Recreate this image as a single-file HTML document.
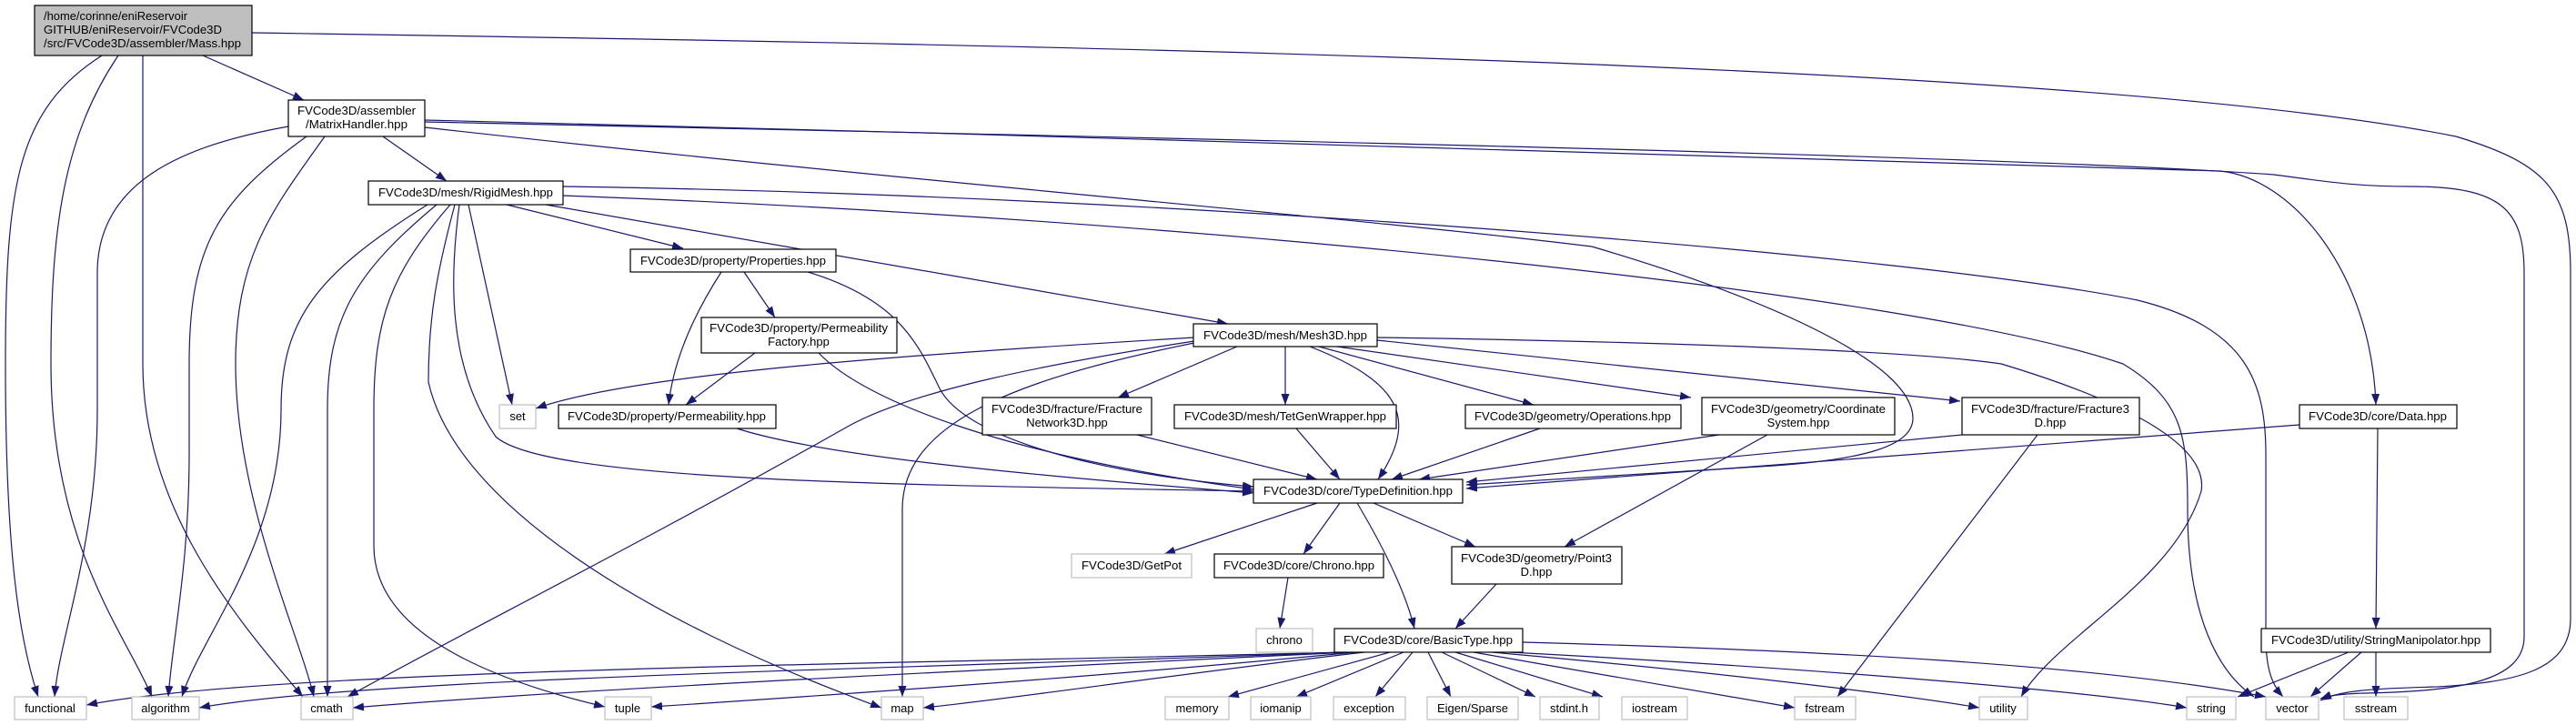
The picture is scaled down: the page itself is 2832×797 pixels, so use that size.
<!DOCTYPE html>
<html><head><meta charset="utf-8"><style>
html,body{margin:0;padding:0;background:#fff;}
svg{display:block;font-family:"Liberation Sans",sans-serif;}
text{font-size:13px;fill:#000;}
.n{fill:#fff;stroke:#000;stroke-width:1.2;}
.g{fill:#fff;stroke:#bfbfbf;stroke-width:1.2;}
.e{fill:none;stroke:#191970;stroke-width:1.2;marker-end:url(#a);}
</style></head><body>
<svg width="2832" height="797" viewBox="0 0 2832 797" xmlns="http://www.w3.org/2000/svg">
<defs><marker id="a" markerWidth="12" markerHeight="9" refX="12" refY="4.5" orient="auto" markerUnits="userSpaceOnUse"><path d="M0,0L12,4.5L0,9z" fill="#191970"/></marker></defs>
<g>
<path class="e" d="M223,61 L334,110"/>
<path class="e" d="M112,61 C20,120 6,200 6,400 C6,600 20,700 42,766"/>
<path class="e" d="M130,61 C70,150 56,250 56,400 C56,600 140,700 167,766"/>
<path class="e" d="M157,61 L157,400 C157,560 260,680 333,766"/>
<path class="e" d="M277,36 C1200,50 2300,70 2700,150 C2800,180 2826,210 2826,300 L2826,680 C2826,740 2760,750 2680,755 C2600,757 2570,760 2551,770"/>
<path class="e" d="M421,150 L491,199"/>
<path class="e" d="M317,139 C200,160 107,200 107,300 L107,450 C107,600 65,700 60,766"/>
<path class="e" d="M337,150 C240,220 208,270 208,400 L208,500 C208,620 190,700 185,766"/>
<path class="e" d="M357,150 C300,230 259,280 259,400 C259,550 330,700 345,766"/>
<path class="e" d="M467,140 C1000,200 1500,240 1750,271 C1950,330 2103,400 2103,460 C2103,490 2050,505 1950,512 L1612,533"/>
<path class="e" d="M467,132 C1200,150 2100,175 2440,188 C2520,195 2607,300 2612,445"/>
<path class="e" d="M467,134 C1200,150 2200,170 2500,192 C2560,200 2590,205 2650,205 C2750,205 2775,230 2775,300 L2775,700 C2775,750 2700,760 2600,762 C2570,763 2560,765 2551,768"/>
<path class="e" d="M557,225 L751,273"/>
<path class="e" d="M600,225 L1350,356"/>
<path class="e" d="M515,225 L563,445"/>
<path class="e" d="M470,225 C350,300 309,350 309,450 C309,600 220,700 200,766"/>
<path class="e" d="M480,225 C390,300 360,350 360,450 L360,766"/>
<path class="e" d="M495,225 C430,300 411,350 411,450 L411,600 C411,700 550,750 665,777"/>
<path class="e" d="M500,225 C480,300 471,350 471,420 C500,550 700,680 969,778"/>
<path class="e" d="M505,225 C495,300 490,400 545,480 C600,530 1000,533 1378,540"/>
<path class="e" d="M619,205 C1300,215 2100,280 2350,330 C2470,360 2491,420 2491,500 L2491,700 C2491,740 2500,755 2510,766"/>
<path class="e" d="M619,215 C1300,240 2100,320 2334,400 C2400,440 2405,480 2405,560 C2405,680 2440,740 2478,766"/>
<path class="e" d="M1514,371 C1800,375 2100,385 2200,400 C2300,430 2430,480 2420,540 C2390,640 2260,700 2222,766"/>
<path class="e" d="M1514,374 L2155,441"/>
<path class="e" d="M1470,381 L1859,437"/>
<path class="e" d="M1450,381 L1686,445"/>
<path class="e" d="M1440,381 C1540,420 1560,460 1515,527"/>
<path class="e" d="M1413,381 L1413,445"/>
<path class="e" d="M1360,381 L1229,437"/>
<path class="e" d="M1313,377 C1100,420 992,470 992,560 L992,766"/>
<path class="e" d="M1313,375 C1150,400 1000,430 930,470 C700,600 500,700 382,766"/>
<path class="e" d="M1313,371 C1000,390 700,410 589,449"/>
<path class="e" d="M793,299 C760,350 740,400 735,445"/>
<path class="e" d="M818,299 L852,349"/>
<path class="e" d="M888,299 C990,330 1010,380 1033,427 C1060,480 1200,520 1378,535"/>
<path class="e" d="M900,388 C950,440 1100,500 1378,538"/>
<path class="e" d="M830,388 L754,445"/>
<path class="e" d="M810,471 C900,500 1100,520 1378,542"/>
<path class="e" d="M1250,478 L1448,527"/>
<path class="e" d="M1425,471 L1473,527"/>
<path class="e" d="M1693,471 L1530,527"/>
<path class="e" d="M1890,478 L1560,527"/>
<path class="e" d="M1943,478 L1720,601"/>
<path class="e" d="M2157,478 L1612,530"/>
<path class="e" d="M2240,478 L2020,766"/>
<path class="e" d="M2528,467 L1612,537"/>
<path class="e" d="M2614,471 L2612,691"/>
<path class="e" d="M1448,553 L1280,609"/>
<path class="e" d="M1473,553 L1433,609"/>
<path class="e" d="M1492,553 C1520,600 1545,650 1555,691"/>
<path class="e" d="M1510,553 L1622,601"/>
<path class="e" d="M1416,635 L1407,691"/>
<path class="e" d="M1645,642 L1600,691"/>
<path class="e" d="M1475,717 C1000,730 300,735 95,775"/>
<path class="e" d="M1480,717 C1000,735 400,745 219,778"/>
<path class="e" d="M1485,717 C1000,740 600,760 388,778"/>
<path class="e" d="M1490,717 C1200,745 900,765 716,777"/>
<path class="e" d="M1500,717 C1300,740 1100,770 1015,778"/>
<path class="e" d="M1528,717 L1350,766"/>
<path class="e" d="M1543,717 L1425,766"/>
<path class="e" d="M1553,717 L1512,766"/>
<path class="e" d="M1570,717 L1595,766"/>
<path class="e" d="M1585,717 L1688,766"/>
<path class="e" d="M1600,717 L1762,766"/>
<path class="e" d="M1620,717 C1750,740 1900,765 1973,778"/>
<path class="e" d="M1640,717 C1900,740 2100,765 2176,778"/>
<path class="e" d="M1660,717 C2000,735 2300,760 2404,778"/>
<path class="e" d="M1674,706 C2000,715 2300,730 2491,766"/>
<path class="e" d="M2582,717 L2460,766"/>
<path class="e" d="M2596,717 L2540,766"/>
<path class="e" d="M2612,717 L2612,766"/>
</g>
<g>
<rect x="38" y="6" width="239" height="55" fill="#bfbfbf" stroke="#000" stroke-width="1.2"/>
<text x="48" y="22" textLength="158" lengthAdjust="spacingAndGlyphs">/home/corinne/eniReservoir</text>
<text x="48" y="37" textLength="196" lengthAdjust="spacingAndGlyphs">GITHUB/eniReservoir/FVCode3D</text>
<text x="48" y="52" textLength="217" lengthAdjust="spacingAndGlyphs">/src/FVCode3D/assembler/Mass.hpp</text>

<rect class="n" x="317" y="110" width="150" height="40"/>
<text x="392" y="126" text-anchor="middle" textLength="130" lengthAdjust="spacingAndGlyphs">FVCode3D/assembler</text>
<text x="392" y="141" text-anchor="middle" textLength="112" lengthAdjust="spacingAndGlyphs">/MatrixHandler.hpp</text>

<rect class="n" x="405" y="199" width="214" height="26"/>
<text x="512" y="216" text-anchor="middle" textLength="192" lengthAdjust="spacingAndGlyphs">FVCode3D/mesh/RigidMesh.hpp</text>

<rect class="n" x="693" y="274" width="226" height="25"/>
<text x="806" y="291" text-anchor="middle" textLength="204" lengthAdjust="spacingAndGlyphs">FVCode3D/property/Properties.hpp</text>

<rect class="n" x="771" y="349" width="215" height="39"/>
<text x="878" y="365" text-anchor="middle" textLength="196" lengthAdjust="spacingAndGlyphs">FVCode3D/property/Permeability</text>
<text x="878" y="380" text-anchor="middle">Factory.hpp</text>

<rect class="g" x="549" y="445" width="40" height="26"/>
<text x="569" y="462" text-anchor="middle">set</text>

<rect class="n" x="614" y="445" width="239" height="26"/>
<text x="733" y="462" text-anchor="middle" textLength="218" lengthAdjust="spacingAndGlyphs">FVCode3D/property/Permeability.hpp</text>

<rect class="n" x="1312" y="356" width="202" height="25"/>
<text x="1413" y="373" text-anchor="middle" textLength="180" lengthAdjust="spacingAndGlyphs">FVCode3D/mesh/Mesh3D.hpp</text>

<rect class="n" x="1080" y="437" width="186" height="41"/>
<text x="1173" y="454" text-anchor="middle" textLength="166" lengthAdjust="spacingAndGlyphs">FVCode3D/fracture/Fracture</text>
<text x="1173" y="469" text-anchor="middle">Network3D.hpp</text>

<rect class="n" x="1291" y="445" width="244" height="26"/>
<text x="1413" y="462" text-anchor="middle" textLength="222" lengthAdjust="spacingAndGlyphs">FVCode3D/mesh/TetGenWrapper.hpp</text>

<rect class="n" x="1611" y="445" width="237" height="26"/>
<text x="1729" y="462" text-anchor="middle" textLength="216" lengthAdjust="spacingAndGlyphs">FVCode3D/geometry/Operations.hpp</text>

<rect class="n" x="1871" y="437" width="212" height="41"/>
<text x="1977" y="454" text-anchor="middle" textLength="192" lengthAdjust="spacingAndGlyphs">FVCode3D/geometry/Coordinate</text>
<text x="1977" y="469" text-anchor="middle">System.hpp</text>

<rect class="n" x="2157" y="437" width="195" height="41"/>
<text x="2254" y="454" text-anchor="middle" textLength="174" lengthAdjust="spacingAndGlyphs">FVCode3D/fracture/Fracture3</text>
<text x="2254" y="469" text-anchor="middle">D.hpp</text>

<rect class="n" x="2528" y="445" width="173" height="26"/>
<text x="2614" y="462" text-anchor="middle" textLength="152" lengthAdjust="spacingAndGlyphs">FVCode3D/core/Data.hpp</text>

<rect class="n" x="1378" y="527" width="230" height="26"/>
<text x="1493" y="544" text-anchor="middle" textLength="208" lengthAdjust="spacingAndGlyphs">FVCode3D/core/TypeDefinition.hpp</text>

<rect class="g" x="1178" y="609" width="132" height="26"/>
<text x="1244" y="626" text-anchor="middle" textLength="110" lengthAdjust="spacingAndGlyphs">FVCode3D/GetPot</text>

<rect class="n" x="1335" y="609" width="186" height="26"/>
<text x="1428" y="626" text-anchor="middle" textLength="166" lengthAdjust="spacingAndGlyphs">FVCode3D/core/Chrono.hpp</text>

<rect class="n" x="1596" y="601" width="187" height="41"/>
<text x="1689" y="618" text-anchor="middle" textLength="166" lengthAdjust="spacingAndGlyphs">FVCode3D/geometry/Point3</text>
<text x="1689" y="633" text-anchor="middle">D.hpp</text>

<rect class="g" x="1381" y="691" width="62" height="26"/>
<text x="1412" y="708" text-anchor="middle">chrono</text>

<rect class="n" x="1467" y="691" width="207" height="26"/>
<text x="1570" y="708" text-anchor="middle" textLength="186" lengthAdjust="spacingAndGlyphs">FVCode3D/core/BasicType.hpp</text>

<rect class="n" x="2486" y="691" width="252" height="26"/>
<text x="2612" y="708" text-anchor="middle" textLength="230" lengthAdjust="spacingAndGlyphs">FVCode3D/utility/StringManipolator.hpp</text>

<rect class="g" x="16" y="766" width="79" height="25"/><text x="55" y="783" text-anchor="middle">functional</text>
<rect class="g" x="145" y="766" width="74" height="25"/><text x="182" y="783" text-anchor="middle">algorithm</text>
<rect class="g" x="331" y="766" width="57" height="25"/><text x="359" y="783" text-anchor="middle">cmath</text>
<rect class="g" x="665" y="766" width="51" height="25"/><text x="690" y="783" text-anchor="middle">tuple</text>
<rect class="g" x="969" y="766" width="46" height="25"/><text x="992" y="783" text-anchor="middle">map</text>
<rect class="g" x="1281" y="766" width="70" height="25"/><text x="1316" y="783" text-anchor="middle">memory</text>
<rect class="g" x="1375" y="766" width="66" height="25"/><text x="1408" y="783" text-anchor="middle">iomanip</text>
<rect class="g" x="1466" y="766" width="79" height="25"/><text x="1505" y="783" text-anchor="middle">exception</text>
<rect class="g" x="1569" y="766" width="100" height="25"/><text x="1619" y="783" text-anchor="middle">Eigen/Sparse</text>
<rect class="g" x="1693" y="766" width="65" height="25"/><text x="1725" y="783" text-anchor="middle">stdint.h</text>
<rect class="g" x="1783" y="766" width="72" height="25"/><text x="1819" y="783" text-anchor="middle">iostream</text>
<rect class="g" x="1973" y="766" width="67" height="25"/><text x="2006" y="783" text-anchor="middle">fstream</text>
<rect class="g" x="2176" y="766" width="53" height="25"/><text x="2202" y="783" text-anchor="middle">utility</text>
<rect class="g" x="2404" y="766" width="54" height="25"/><text x="2431" y="783" text-anchor="middle">string</text>
<rect class="g" x="2491" y="766" width="58" height="25"/><text x="2520" y="783" text-anchor="middle">vector</text>
<rect class="g" x="2577" y="766" width="70" height="25"/><text x="2612" y="783" text-anchor="middle">sstream</text>
</g>
</svg>
</body></html>
